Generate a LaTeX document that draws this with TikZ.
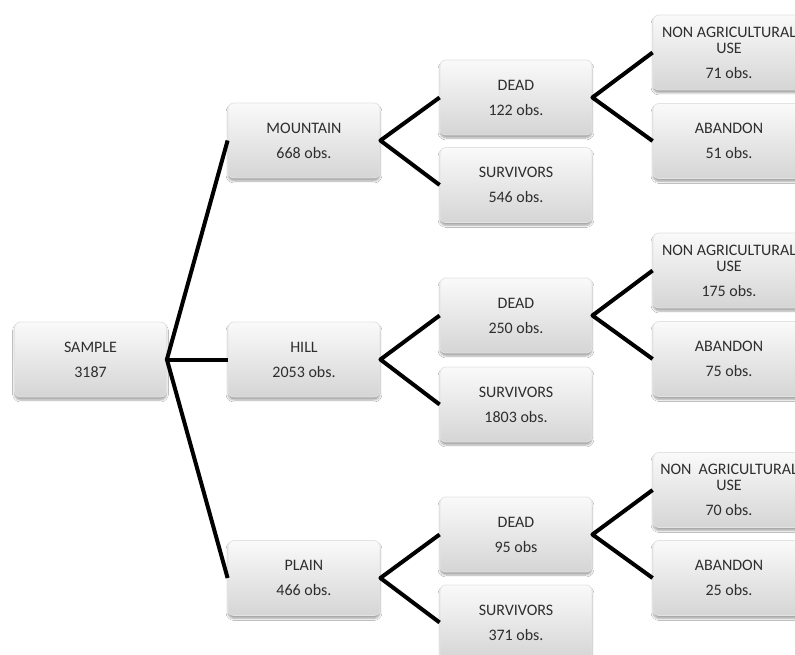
\documentclass[tikz,border=0pt]{standalone}
\usepackage{fontspec}
\setmainfont{Carlito}
\usetikzlibrary{shadows.blur}
\begin{document}
\begin{tikzpicture}[x=1pt,y=-1pt,
  box/.style={rectangle, rounded corners=6pt, minimum width=152pt, minimum height=75pt,
    inner sep=0pt, align=center, draw=gray!22, line width=0.8pt,
    top color=gray!4, bottom color=gray!33, text=black!82,
    font=\fontsize{16}{17}\selectfont,
    blur shadow={shadow xshift=0pt, shadow yshift=-3pt, shadow opacity=35, shadow blur steps=6}},
  link/.style={line width=4pt, line join=round, line cap=butt, black}]
\clip (0,0) rectangle (795,655);
\fill[white] (0,0) rectangle (795,655);
% level 0
\node[box] (sample) at (90.5,359.5) {SAMPLE\\[8pt]3187};
% level 1
\node[box] (mountain) at (304,140.5) {MOUNTAIN\\[8pt]668 obs.};
\node[box] (hill) at (304,359.5) {HILL\\[8pt]2053 obs.};
\node[box] (plain) at (304,578) {PLAIN\\[8pt]466 obs.};
% level 2
\node[box] (dead1) at (516,97.5) {DEAD\\[8pt]122 obs.};
\node[box] (surv1) at (516,185) {SURVIVORS\\[8pt]546 obs.};
\node[box] (dead2) at (516,315.5) {DEAD\\[8pt]250 obs.};
\node[box] (surv2) at (516,404.5) {SURVIVORS\\[8pt]1803 obs.};
\node[box] (dead3) at (516,534.5) {DEAD\\[8pt]95 obs};
\node[box] (surv3) at (516,622.5) {SURVIVORS\\[8pt]371 obs.};
% level 3
\node[box] (nau1) at (729,52.5) {NON AGRICULTURAL\\[-1pt]USE\\[8pt]71 obs.};
\node[box] (ab1) at (729,141) {ABANDON\\[8pt]51 obs.};
\node[box] (nau2) at (729,270.5) {NON AGRICULTURAL\\[-1pt]USE\\[8pt]175 obs.};
\node[box] (ab2) at (729,359) {ABANDON\\[8pt]75 obs.};
\node[box] (nau3) at (729,490) {NON\hspace{0.45em}AGRICULTURAL\\[-1pt]USE\\[8pt]70 obs.};
\node[box] (ab3) at (729,578) {ABANDON\\[8pt]25 obs.};
% connectors
\draw[link] (mountain.west) -- (sample.east) -- (plain.west);
\draw[link] (sample.east) -- (hill.west);
\draw[link] (dead1.west) -- (mountain.east) -- (surv1.west);
\draw[link] (dead2.west) -- (hill.east) -- (surv2.west);
\draw[link] (dead3.west) -- (plain.east) -- (surv3.west);
\draw[link] (nau1.west) -- (dead1.east) -- (ab1.west);
\draw[link] (nau2.west) -- (dead2.east) -- (ab2.west);
\draw[link] (nau3.west) -- (dead3.east) -- (ab3.west);
\end{tikzpicture}
\end{document}
